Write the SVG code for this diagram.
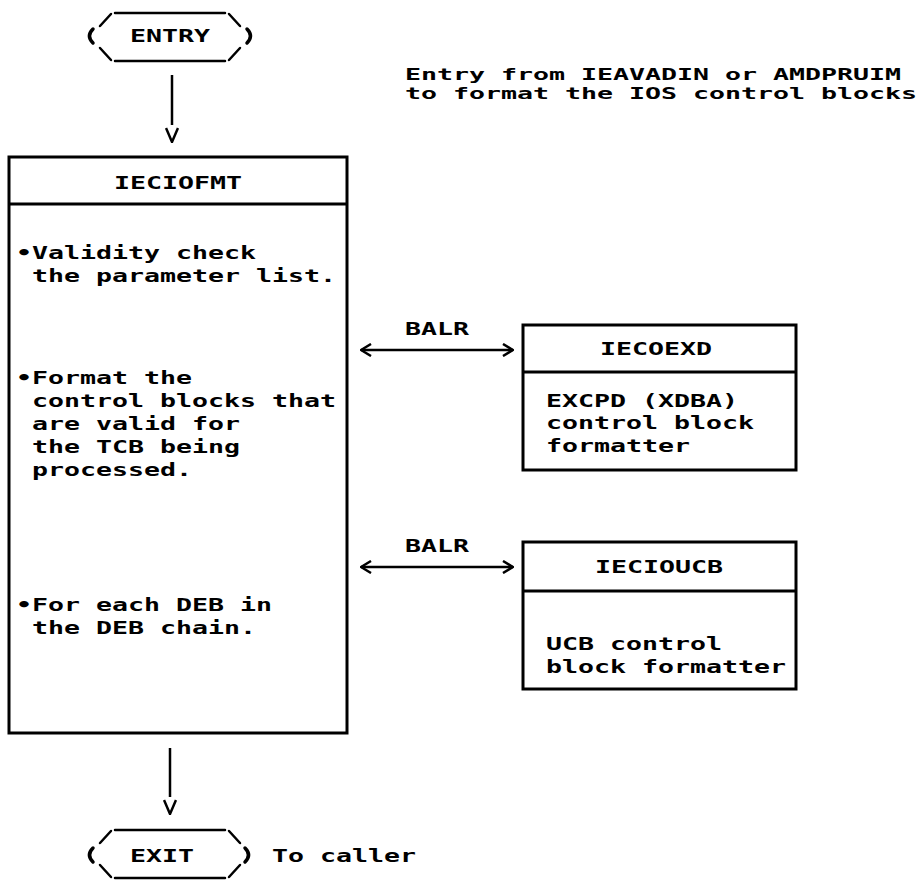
<svg xmlns="http://www.w3.org/2000/svg" width="920" height="888" viewBox="0 0 920 888">
<style>
.t{font-family:"DejaVu Sans Mono","Liberation Mono",monospace;font-weight:bold;font-size:18px;fill:#000}
.n{font-size:16px}
.box{fill:none;stroke:#000;stroke-width:3}
.ln{fill:none;stroke:#000;stroke-width:2.5}
.term{fill:none;stroke:#000;stroke-width:2.5;stroke-linecap:round}
.par{fill:none;stroke:#000;stroke-width:3.5;stroke-linecap:round}
</style>
<defs>
<marker id="chev" viewBox="0 0 12 14" markerWidth="12" markerHeight="14" refX="11" refY="7" markerUnits="userSpaceOnUse" orient="auto-start-reverse">
<path d="M1,1 L11,7 L1,13" fill="none" stroke="#000" stroke-width="2.5"/>
</marker>
<marker id="vee" viewBox="0 0 18 14" markerWidth="18" markerHeight="14" refX="0" refY="7" markerUnits="userSpaceOnUse" orient="auto">
<path d="M3,1 L17,7 L3,13" fill="none" stroke="#000" stroke-width="2.5"/>
</marker>
</defs>
<rect width="920" height="888" fill="#fff"/>

<g id="entry">
<path class="term" d="M115,13 H225 M111,14 L100,26 M229,14 L240,26 M115,61 H225 M111,60 L100,48 M229,60 L240,48"/>
<path class="par" d="M93,29 Q86,36 93,43 M247,29 Q254,36 247,43"/>
<text class="t" x="130" y="42" textLength="80" lengthAdjust="spacingAndGlyphs">ENTRY</text>
</g>

<g id="note">
<text class="t n" x="405" y="80" textLength="496" lengthAdjust="spacingAndGlyphs">Entry from IEAVADIN or AMDPRUIM</text>
<text class="t n" x="405" y="99" textLength="512" lengthAdjust="spacingAndGlyphs">to format the IOS control blocks</text>
</g>

<g id="ieciofmt">
<rect class="box" x="9" y="157" width="338" height="576"/>
<line class="box" x1="9" y1="204" x2="347" y2="204"/>
<text class="t" x="114" y="189" textLength="128" lengthAdjust="spacingAndGlyphs">IECIOFMT</text>
<text class="t" x="16" y="259" textLength="240" lengthAdjust="spacingAndGlyphs">•Validity check</text>
<text class="t" x="32" y="282" textLength="304" lengthAdjust="spacingAndGlyphs">the parameter list.</text>
<text class="t" x="16" y="384" textLength="176" lengthAdjust="spacingAndGlyphs">•Format the</text>
<text class="t" x="32" y="407" textLength="304" lengthAdjust="spacingAndGlyphs">control blocks that</text>
<text class="t" x="32" y="430" textLength="208" lengthAdjust="spacingAndGlyphs">are valid for</text>
<text class="t" x="32" y="453" textLength="208" lengthAdjust="spacingAndGlyphs">the TCB being</text>
<text class="t" x="32" y="476" textLength="160" lengthAdjust="spacingAndGlyphs">processed.</text>
<text class="t" x="16" y="611" textLength="256" lengthAdjust="spacingAndGlyphs">•For each DEB in</text>
<text class="t" x="32" y="634" textLength="224" lengthAdjust="spacingAndGlyphs">the DEB chain.</text>
</g>

<g id="iecoexd">
<rect class="box" x="523" y="325" width="273" height="145"/>
<line class="box" x1="523" y1="372" x2="796" y2="372"/>
<text class="t" x="600" y="355" textLength="112" lengthAdjust="spacingAndGlyphs">IECOEXD</text>
<text class="t" x="546" y="407" textLength="192" lengthAdjust="spacingAndGlyphs">EXCPD (XDBA)</text>
<text class="t" x="546" y="429" textLength="208" lengthAdjust="spacingAndGlyphs">control block</text>
<text class="t" x="546" y="452" textLength="144" lengthAdjust="spacingAndGlyphs">formatter</text>
</g>

<g id="iecioucb">
<rect class="box" x="523" y="542" width="273" height="147"/>
<line class="box" x1="523" y1="591" x2="796" y2="591"/>
<text class="t" x="595" y="573" textLength="128" lengthAdjust="spacingAndGlyphs">IECIOUCB</text>
<text class="t" x="546" y="650" textLength="176" lengthAdjust="spacingAndGlyphs">UCB control</text>
<text class="t" x="546" y="673" textLength="240" lengthAdjust="spacingAndGlyphs">block formatter</text>
</g>

<g id="exit">
<path class="term" d="M115,830 H225 M111,831 L100,843 M229,831 L240,843 M115,878 H225 M111,877 L100,865 M229,877 L240,865"/>
<path class="par" d="M93,848 Q86,855 93,862 M245,848 Q252,855 245,862"/>
<text class="t" x="130" y="862" textLength="64" lengthAdjust="spacingAndGlyphs">EXIT</text>
<text class="t" x="272" y="862" textLength="144" lengthAdjust="spacingAndGlyphs">To caller</text>
</g>

<g id="connectors">
<line class="ln" x1="172" y1="75" x2="172" y2="125" marker-end="url(#vee)"/>
<line class="ln" x1="170" y1="748" x2="170" y2="797" marker-end="url(#vee)"/>
<line class="ln" x1="361" y1="350" x2="513" y2="350" marker-start="url(#chev)" marker-end="url(#chev)"/>
<text class="t" x="405" y="335" textLength="64" lengthAdjust="spacingAndGlyphs">BALR</text>
<line class="ln" x1="361" y1="567" x2="513" y2="567" marker-start="url(#chev)" marker-end="url(#chev)"/>
<text class="t" x="405" y="552" textLength="64" lengthAdjust="spacingAndGlyphs">BALR</text>
</g>
</svg>
